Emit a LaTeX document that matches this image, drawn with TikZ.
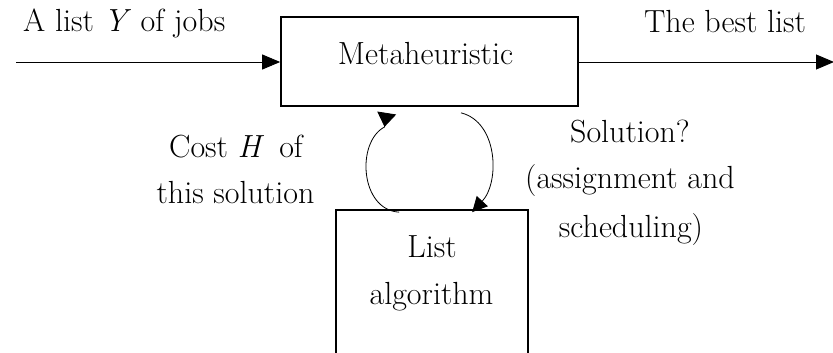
\documentclass[tikz,border=0pt]{standalone}
\usepackage{fontspec}
\usetikzlibrary{arrows.meta,calc}
\tikzset{
  txt/.style={font=\fontsize{32}{38}\selectfont, inner sep=0pt, anchor=base},
  box/.style={draw, line width=1.7pt, rectangle, inner sep=0pt},
  flow/.style={line width=0.9pt, -{Triangle[length=18pt,width=15pt]}},
  loopline/.style={line width=0.8pt, draw=black},
}
\begin{document}
\begin{tikzpicture}[x=1pt,y=-1pt]
\clip (0,0) rectangle (833,353);
\path[use as bounding box] (0,0) rectangle (833,353);
% boxes
\node[box, minimum width=297pt, minimum height=89pt] (meta) at (429.5,61.5) {};
\node[box, minimum width=192pt, minimum height=200pt] (list) at (432,310) {};
% texts
\node[txt] (metatext) at (425.5,65) {Metaheuristic};
\node[txt] (listtext1) at (432,257) {List};
\node[txt] (listtext2) at (431.5,304) {algorithm};
\node[txt, anchor=base west] (inlabel) at (23,32) {A list \textit{Y} of jobs};
\node[txt] (outlabel) at (725,33) {The best list};
\node[txt] (cost1) at (236,157) {Cost\ \textit{H}\ \,of};
\node[txt] (cost2) at (235.5,203) {this solution};
\node[txt] (sol1) at (630,142) {Solution?};
\node[txt] (sol2) at (630,188) {(assignment and};
\node[txt] (sol3) at (631,237) {scheduling)};
% free ends
\coordinate (in) at (16,62);
\coordinate (out) at (834,62);
% main flow
\draw[flow] (in) -- (meta.west |- in);
\draw[flow] (meta.east |- out) -- (out);
% loop arcs
\coordinate (l0) at ($(list.north west)+(64,3)$);
\coordinate (l1) at (384.5,127);
\coordinate (l2) at (386.7,113);
\draw[loopline, -{Triangle[reversed,length=14pt,width=19pt]}]
  (l0) .. controls (360,210) and (356,142) .. (l1) -- (l2);
\coordinate (r0) at ($(meta.south)+(31.5,6)$);
\coordinate (r1) at ($(list.north west)+(137,3)$);
\draw[loopline, -{Triangle[length=15pt,width=15pt]}]
  (r0) .. controls (498,122) and (500,182) .. (r1);
\end{tikzpicture}
\end{document}
